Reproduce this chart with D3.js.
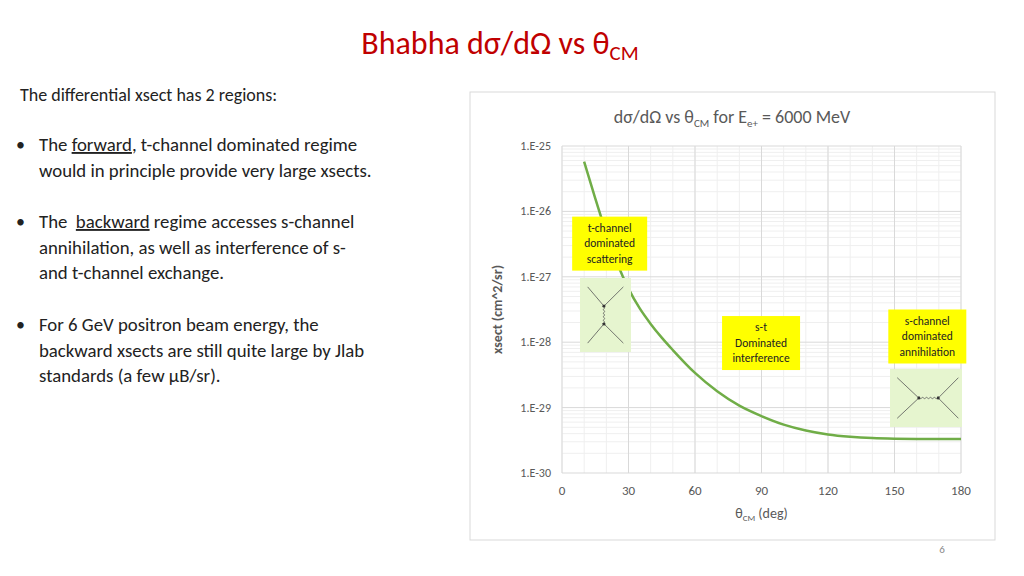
<!DOCTYPE html>
<html><head><meta charset="utf-8">
<script src="https://cdn.jsdelivr.net/npm/d3@7"></script>
<style>
body{margin:0;background:#fff;font-family:Calibri,Carlito,"Open Sans",sans-serif}
</style></head><body>
<svg id="c" width="1024" height="576"></svg>
<script>
// data
const theta = [10, 15, 20, 25, 30, 35, 40, 45, 50, 60, 70, 80, 90, 100, 110, 120, 130, 140, 150, 160, 170, 180]
const logXsect = [-25.24, -25.8, -26.33, -26.8, -27.18, -27.48, -27.72, -27.93, -28.12, -28.47, -28.75, -28.97, -29.13, -29.26, -29.35, -29.41, -29.445, -29.466, -29.476, -29.48, -29.481, -29.481]
const yTickLabels = ['1.E-25', '1.E-26', '1.E-27', '1.E-28', '1.E-29', '1.E-30']
const xTicks = [0, 30, 60, 90, 120, 150, 180]
const bullets = [
  ['The <u>forward</u>, t-channel dominated regime', 'would in principle provide very large xsects.'],
  ['The  <u>backward</u> regime accesses s-channel', 'annihilation, as well as interference of s-', 'and t-channel exchange.'],
  ['For 6 GeV positron beam energy, the', 'backward xsects are still quite large by Jlab', 'standards (a few µB/sr).']
]

const svg = d3.select('#c')
const font = 'Calibri,Carlito,"Open Sans",sans-serif'

// slide title
const title = svg.append('text').attr('x', 500).attr('y', 54).attr('text-anchor', 'middle')
  .attr('fill', '#c00000').attr('font-size', 32).attr('font-family', font)
title.append('tspan').text('Bhabha dσ/dΩ vs θ')
title.append('tspan').attr('font-size', 21).attr('dy', 6).text('CM')

svg.append('text').attr('x', 20).attr('y', 101).attr('font-size', 18).attr('fill', '#222')
  .attr('font-family', font).text('The differential xsect has 2 regions:')

const startY = [151, 228, 331]
bullets.forEach(function (lines, b) {
  svg.append('text').attr('x', 16).attr('y', startY[b]).attr('font-size', 18).attr('fill', '#222').text('•')
  lines.forEach(function (l, i) {
    const t = svg.append('text').attr('x', 39).attr('y', startY[b] + i * 25.5)
      .attr('font-size', 18.8).attr('fill', '#222').attr('font-family', font)
    l.split(/(<u>.*?<\/u>)/).forEach(function (part) {
      if (part.startsWith('<u>')) t.append('tspan').attr('text-decoration', 'underline').text(part.slice(3, -4))
      else t.append('tspan').attr('xml:space', 'preserve').text(part)
    })
  })
})

svg.append('text').attr('x', 942).attr('y', 553).attr('font-size', 11).attr('fill', '#888')
  .attr('text-anchor', 'middle').text('6')

// chart frame
svg.append('rect').attr('x', 470).attr('y', 92).attr('width', 525).attr('height', 448)
  .attr('fill', '#fff').attr('stroke', '#d9d9d9')

const ct = svg.append('text').attr('x', 732).attr('y', 123).attr('text-anchor', 'middle')
  .attr('fill', '#595959').attr('font-size', 18).attr('font-family', font)
ct.append('tspan').text('dσ/dΩ vs θ')
ct.append('tspan').attr('font-size', 11).attr('dy', 4).text('CM')
ct.append('tspan').attr('dy', -4).text(' for E')
ct.append('tspan').attr('font-size', 11).attr('dy', 4).text('e+')
ct.append('tspan').attr('dy', -4).text(' = 6000 MeV')

const x = d3.scaleLinear().domain([0, 180]).range([562, 961])
const y = d3.scaleLinear().domain([-30, -25]).range([473, 146])

const g = svg.append('g')
// minor log grid
for (let d = -30; d < -25; d++) {
  for (let m = 2; m <= 9; m++) {
    const yy = y(d + Math.log10(m))
    g.append('line').attr('x1', x(0)).attr('x2', x(180)).attr('y1', yy).attr('y2', yy)
      .attr('stroke', '#efefef').attr('stroke-width', 1)
  }
}
// minor vertical grid
d3.range(0, 181, 10).forEach(function (v) {
  g.append('line').attr('x1', x(v)).attr('x2', x(v)).attr('y1', y(-25)).attr('y2', y(-30))
    .attr('stroke', '#efefef')
})
xTicks.forEach(function (v) {
  g.append('line').attr('x1', x(v)).attr('x2', x(v)).attr('y1', y(-25)).attr('y2', y(-30))
    .attr('stroke', '#d9d9d9')
})
yTickLabels.forEach(function (lab, i) {
  const yy = y(-25 - i)
  g.append('line').attr('x1', x(0)).attr('x2', x(180)).attr('y1', yy).attr('y2', yy).attr('stroke', '#d9d9d9')
  g.append('text').attr('x', 551).attr('y', yy + 4).attr('text-anchor', 'end')
    .attr('font-size', 12).attr('fill', '#595959').attr('font-family', font).text(lab)
})
xTicks.forEach(function (v) {
  g.append('text').attr('x', x(v)).attr('y', 495).attr('text-anchor', 'middle')
    .attr('font-size', 13).attr('fill', '#595959').attr('font-family', font).text(v)
})
const xl = g.append('text').attr('x', x(90)).attr('y', 518).attr('text-anchor', 'middle')
  .attr('font-size', 14).attr('fill', '#595959').attr('font-family', font)
xl.append('tspan').text('θ')
xl.append('tspan').attr('font-size', 9).attr('dy', 3).text('CM')
xl.append('tspan').attr('dy', -3).text(' (deg)')
g.append('text').attr('transform', 'translate(502,' + y(-27.5) + ') rotate(-90)')
  .attr('text-anchor', 'middle').attr('font-size', 14).attr('fill', '#595959')
  .attr('font-weight', 'bold').attr('font-family', font).text('xsect (cm^2/sr)')

// curve
const line = d3.line().x(function (d, i) { return x(theta[i]) }).y(function (d) { return y(d) })
  .curve(d3.curveMonotoneX)
g.append('path').datum(logXsect).attr('d', line).attr('fill', 'none')
  .attr('stroke', '#70ad47').attr('stroke-width', 2.5)

// annotations
function label(cx, cy, w, lines) {
  g.append('rect').attr('x', x(cx) - w / 2).attr('y', y(cy)).attr('width', w).attr('height', 54)
    .attr('fill', '#ffff00')
  lines.forEach(function (l, i) {
    g.append('text').attr('x', x(cx)).attr('y', y(cy) + 15 + i * 15.5).attr('text-anchor', 'middle')
      .attr('font-size', 11.5).attr('fill', '#222').attr('font-family', font).text(l)
  })
}
label(21.5, -26.08, 75, ['t-channel', 'dominated', 'scattering'])
label(89.8, -27.6, 78, ['s-t', 'Dominated', 'interference'])
label(164.8, -27.5, 78, ['s-channel', 'dominated', 'annihilation'])

// feynman diagrams
function diagram(x0, y0, w, h, schannel) {
  const d = g.append('g').attr('transform', 'translate(' + x0 + ',' + y0 + ')')
  d.append('rect').attr('width', w).attr('height', h).attr('fill', '#e6f5cf')
  function ln(a, b, c, e) {
    d.append('line').attr('x1', a).attr('y1', b).attr('x2', c).attr('y2', e)
      .attr('stroke', '#555').attr('stroke-width', 0.8)
  }
  let p1, p2, pts
  if (!schannel) {
    p1 = [w * 0.47, h * 0.38]; p2 = [w * 0.47, h * 0.62]
    ln(w * 0.15, h * 0.12, p1[0], p1[1]); ln(w * 0.85, h * 0.12, p1[0], p1[1])
    ln(w * 0.15, h * 0.88, p2[0], p2[1]); ln(w * 0.85, h * 0.88, p2[0], p2[1])
    pts = d3.range(0, 11).map(function (i) { return [p1[0] + (i % 2 ? 2 : -2), p1[1] + (p2[1] - p1[1]) * i / 10] })
  } else {
    p1 = [w * 0.4, h * 0.5]; p2 = [w * 0.67, h * 0.5]
    ln(w * 0.1, h * 0.15, p1[0], p1[1]); ln(w * 0.1, h * 0.85, p1[0], p1[1])
    ln(w * 0.95, h * 0.15, p2[0], p2[1]); ln(w * 0.95, h * 0.85, p2[0], p2[1])
    pts = d3.range(0, 11).map(function (i) { return [p1[0] + (p2[0] - p1[0]) * i / 10, p1[1] + (i % 2 ? 2 : -2)] })
  }
  d.append('path').attr('d', d3.line().curve(d3.curveBasis)(pts)).attr('stroke', '#555').attr('stroke-width', 0.8).attr('fill', 'none')
  ;[p1, p2].forEach(function (p) { d.append('circle').attr('cx', p[0]).attr('cy', p[1]).attr('r', 1.5).attr('fill', '#333') })
}
diagram(580, 278, 51, 74, false)
diagram(890, 369, 72, 58, true)
</script>
</body></html>
